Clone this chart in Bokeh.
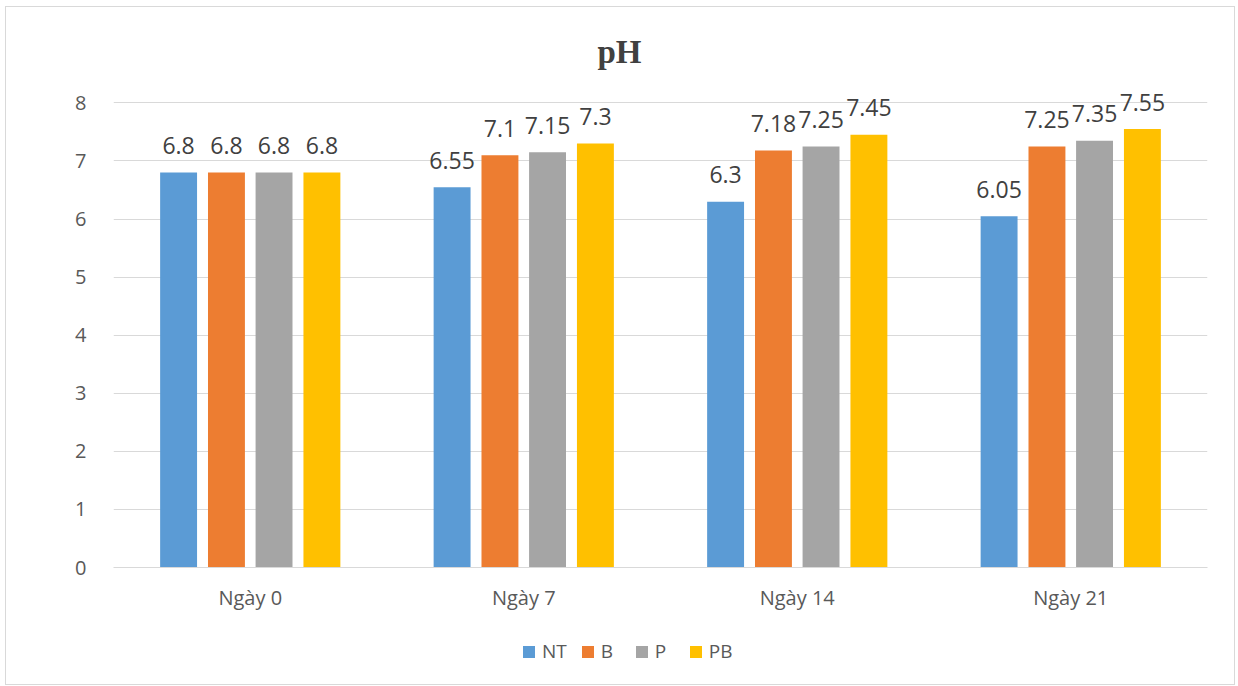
from bokeh.plotting import figure
from bokeh.layouts import column
from bokeh.models import ColumnDataSource, FactorRange, Range1d, Legend, LegendItem, FixedTicker, Label
from bokeh.transform import dodge
from bokeh.core.properties import value
from bokeh.embed import file_html
from bokeh.resources import INLINE

categories = ["Ngày 0", "Ngày 7", "Ngày 14", "Ngày 21"]
series_names = ["NT", "B", "P", "PB"]
NT = [6.8, 6.55, 6.3, 6.05]
B = [6.8, 7.1, 7.18, 7.25]
P = [6.8, 7.15, 7.25, 7.35]
PB = [6.8, 7.3, 7.45, 7.55]
y_ticks = [0, 1, 2, 3, 4, 5, 6, 7, 8]
title_text = "pH"

colors = ["#5B9BD5", "#ED7D31", "#A5A5A5", "#FFC000"]
offsets = [-0.262, -0.087, 0.087, 0.262]
FONT = "Open Sans"
TXT = "#404040"
W = 1228
FRAME_W = 1094

# title strip (frame is aligned with the main chart's frame by the column layout)
p0 = figure(width=W, height=70, output_backend="svg", toolbar_location=None,
            x_range=Range1d(0, FRAME_W), y_range=Range1d(0, 70),
            min_border_left=0, min_border_right=0, min_border_top=0, min_border_bottom=0,
            x_axis_location=None, y_axis_location=None)
p0.outline_line_color = None
p0.grid.grid_line_color = None
p0.add_layout(Label(x=506, y=26, text=title_text, text_align="center", text_baseline="alphabetic",
                    text_font="Liberation Serif", text_font_size="33px", text_font_style="bold",
                    text_color=TXT))

# main chart
p = figure(x_range=FactorRange(*categories, range_padding=0), y_range=Range1d(0, 8.3),
           width=W, height=557, output_backend="svg", toolbar_location=None,
           min_border_left=107, min_border_right=27, min_border_top=8, min_border_bottom=67)
p.outline_line_color = None

for name, vals, col, off in zip(series_names, [NT, B, P, PB], colors, offsets):
    src = ColumnDataSource(dict(x=categories, y=vals, lab=[str(v) for v in vals]))
    p.vbar(x=dodge("x", off, range=p.x_range), top="y", width=0.135, source=src,
           fill_color=col, line_color=None)
    p.text(x=dodge("x", off, range=p.x_range), y="y", text="lab", source=src,
           text_align="center", text_baseline="alphabetic", y_offset=-27,
           text_font=value(FONT), text_font_size="23px", text_color=TXT)

p.yaxis.ticker = FixedTicker(ticks=y_ticks)
p.yaxis.axis_line_color = None
p.yaxis.major_tick_line_color = None
p.yaxis.minor_tick_line_color = None
p.yaxis.major_label_text_font = FONT
p.yaxis.major_label_text_font_size = "20px"
p.yaxis.major_label_text_color = "#595959"
p.yaxis.major_label_standoff = 21

p.xaxis.axis_line_color = "#d9d9d9"
p.xaxis.major_tick_line_color = None
p.xaxis.minor_tick_line_color = None
p.xaxis.major_label_text_font = FONT
p.xaxis.major_label_text_font_size = "20px"
p.xaxis.major_label_text_color = "#595959"
p.xaxis.major_label_standoff = 10

p.xgrid.grid_line_color = None
p.ygrid.grid_line_color = "#d9d9d9"
p.ygrid.grid_line_width = 1

# legend strip
p2 = figure(width=W, height=50, output_backend="svg", toolbar_location=None,
            x_range=Range1d(0, 1), y_range=Range1d(0, 1),
            min_border_left=0, min_border_right=0, min_border_top=0, min_border_bottom=0,
            x_axis_location=None, y_axis_location=None)
p2.outline_line_color = None
p2.grid.grid_line_color = None
items = []
for name, col in zip(series_names, colors):
    r = p2.vbar(x="x", top="top", width=0.1, source=ColumnDataSource(dict(x=[-10], top=[-10])),
                fill_color=col, line_color=None)
    items.append(LegendItem(label=name, renderers=[r]))
legend = Legend(items=items, orientation="horizontal", location=(408, 20),
                label_text_font=FONT, label_text_font_size="19px", label_text_color="#595959",
                glyph_width=15, glyph_height=15, spacing=13, label_standoff=6,
                border_line_color=None, background_fill_alpha=0, padding=5, margin=0)
p2.add_layout(legend)

layout = column(p0, p, p2, spacing=0, margin=(6, 0, 0, 5),
                styles={"border": "1px solid #d9d9d9"})
open("out.html", "w").write(file_html(layout, INLINE))
